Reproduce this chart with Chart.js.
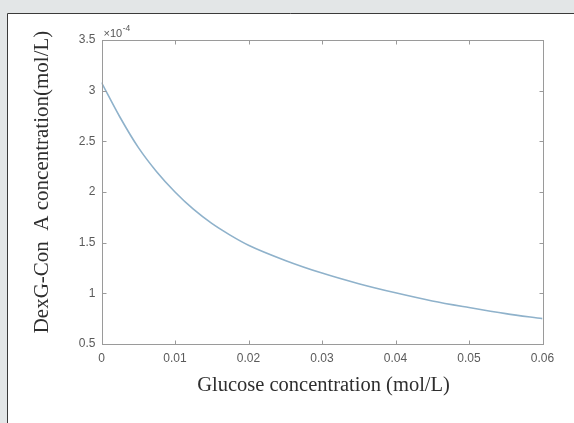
<!DOCTYPE html>
<html>
<head>
<meta charset="utf-8">
<script src="https://cdn.jsdelivr.net/npm/chart.js@4/dist/chart.umd.min.js"></script>
<style>
  html, body { margin: 0; padding: 0; background: #e3e6e7; }
  canvas { display: block; }
</style>
</head>
<body>
<canvas id="c" width="574" height="423"></canvas>
<script>
// Glucose concentration (mol/L)
const glucose = [0, 0.0025, 0.005, 0.0075, 0.01, 0.0125, 0.015, 0.0175, 0.02, 0.025, 0.03, 0.035, 0.04, 0.045, 0.05, 0.055, 0.06];
// DexG-Con A concentration (mol/L), in units of 10^-4
const dexgConA = [3.08, 2.74, 2.44, 2.20, 2.00, 1.83, 1.69, 1.575, 1.475, 1.325, 1.20, 1.095, 1.005, 0.925, 0.86, 0.80, 0.75];
const xTicks = [0, 0.01, 0.02, 0.03, 0.04, 0.05, 0.06];
const yTicks = [0.5, 1, 1.5, 2, 2.5, 3, 3.5];
const yExponent = '-4';
const xTitle = 'Glucose concentration (mol/L)';
const yTitle = 'DexG-Con  A concentration(mol/L)';

const points = glucose.map((g, i) => ({ x: g, y: dexgConA[i] }));

const decor = {
  id: 'decor',
  beforeDraw(chart) {
    const ctx = chart.ctx;
    ctx.save();
    ctx.fillStyle = '#e3e6e7';
    ctx.fillRect(0, 0, 574, 423);
    ctx.fillStyle = '#ffffff';
    ctx.fillRect(7, 13, 574 - 7, 423 - 13);
    ctx.strokeStyle = '#3a3a3a';
    ctx.lineWidth = 1;
    ctx.beginPath();
    ctx.moveTo(7.5, 423);
    ctx.lineTo(7.5, 13.5);
    ctx.lineTo(574, 13.5);
    ctx.stroke();
    ctx.restore();
  },
  afterDatasetsDraw(chart) {
    const ctx = chart.ctx;
    const a = chart.chartArea;
    const xs = chart.scales.x, ys = chart.scales.y;
    ctx.save();
    ctx.strokeStyle = '#9a9a9a';
    ctx.lineWidth = 1;
    const L = Math.round(a.left) + 0.5, R = Math.round(a.right) + 0.5;
    const T = Math.round(a.top) + 0.5, B = Math.round(a.bottom) + 0.5;
    ctx.strokeRect(L, T, R - L, B - T);
    ctx.beginPath();
    const tl = 4;
    xTicks.forEach(v => {
      const px = Math.round(xs.getPixelForValue(v)) + 0.5;
      ctx.moveTo(px, B); ctx.lineTo(px, B - tl);
      ctx.moveTo(px, T); ctx.lineTo(px, T + tl);
    });
    yTicks.forEach(v => {
      const py = Math.round(ys.getPixelForValue(v)) + 0.5;
      ctx.moveTo(L, py); ctx.lineTo(L + tl, py);
      ctx.moveTo(R, py); ctx.lineTo(R - tl, py);
    });
    ctx.stroke();

    // exponent
    ctx.fillStyle = '#555555';
    ctx.textBaseline = 'alphabetic';
    ctx.textAlign = 'left';
    ctx.font = '11px "Liberation Sans", Arial, sans-serif';
    const base = '\u00d710';
    ctx.fillText(base, a.left + 2, a.top - 3);
    const w = ctx.measureText(base).width;
    ctx.font = '8.5px "Liberation Sans", Arial, sans-serif';
    ctx.fillText(yExponent, a.left + 2 + w + 0.5, a.top - 9);

    // axis titles
    ctx.fillStyle = '#2e2e2e';
    ctx.textAlign = 'center';
    ctx.textBaseline = 'middle';
    ctx.font = '20.5px "Liberation Serif", "Times New Roman", serif';
    ctx.fillText(xTitle, 323.5, 386);
    ctx.translate(42, 182);
    ctx.rotate(-Math.PI / 2);
    ctx.font = '21px "Liberation Serif", "Times New Roman", serif';
    ctx.fillText(yTitle, 0, 0);
    ctx.restore();
  }
};

new Chart(document.getElementById('c'), {
  type: 'scatter',
  data: {
    datasets: [{
      data: points,
      showLine: true,
      borderColor: '#8fb2cb',
      borderWidth: 1.6,
      pointRadius: 0,
      cubicInterpolationMode: 'monotone',
      fill: false
    }]
  },
  options: {
    responsive: false,
    animation: false,
    devicePixelRatio: 1,
    layout: { padding: { left: 0, top: 40, right: 31.5, bottom: 0 } },
    plugins: { legend: { display: false }, tooltip: { enabled: false } },
    scales: {
      x: {
        type: 'linear',
        min: 0, max: 0.06,
        afterFit(s) { s.height = 79; },
        afterBuildTicks(s) { s.ticks = xTicks.map(v => ({ value: v })); },
        grid: { display: false, drawTicks: false },
        border: { display: false },
        ticks: {
          padding: 7,
          color: '#5a5a5a',
          font: { family: '"Liberation Sans", Arial, sans-serif', size: 12 },
          maxRotation: 0,
          callback: v => String(parseFloat(v.toFixed(4)))
        }
      },
      y: {
        type: 'linear',
        min: 0.5, max: 3.5,
        afterFit(s) { s.width = 101.5; },
        afterBuildTicks(s) { s.ticks = yTicks.map(v => ({ value: v })); },
        grid: { display: false, drawTicks: false },
        border: { display: false },
        ticks: {
          padding: 6,
          color: '#5a5a5a',
          font: { family: '"Liberation Sans", Arial, sans-serif', size: 12 },
          callback: v => String(parseFloat(v.toFixed(2)))
        }
      }
    }
  },
  plugins: [decor]
});
</script>
</body>
</html>
